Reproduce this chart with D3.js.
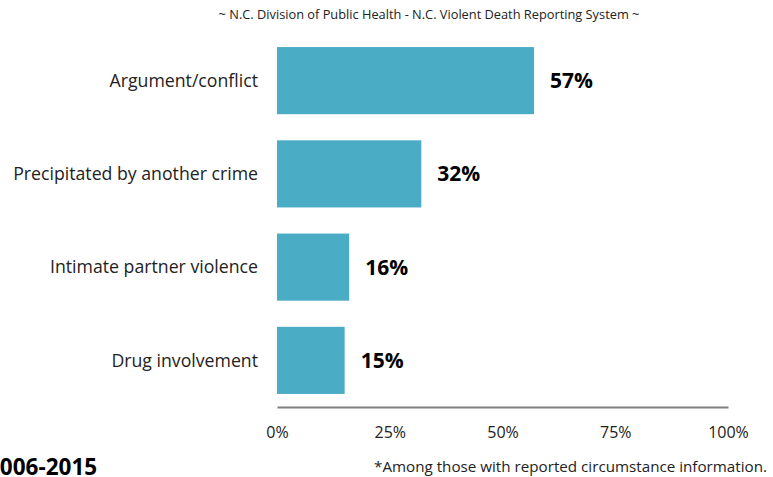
<!DOCTYPE html>
<html>
<head>
<meta charset="utf-8">
<script src="https://cdn.jsdelivr.net/npm/d3@7"></script>
<style>
  body { margin: 0; background: #fff; }
  svg { display: block; font-family: "Open Sans", sans-serif; }
</style>
</head>
<body>
<div id="vis"></div>
<script>
const categories = [
  "Argument/conflict",
  "Precipitated by another crime",
  "Intimate partner violence",
  "Drug involvement",
];
const values = [57, 32, 16, 15];
const ticks = [0, 25, 50, 75, 100];

const FRAME_WIDTH = 773;
const FRAME_HEIGHT = 477;
const MARGINS = { left: 277, right: 45, top: 34, bottom: 70 };

const FRAME = d3
  .select("#vis")
  .append("svg")
  .attr("width", FRAME_WIDTH)
  .attr("height", FRAME_HEIGHT);

const X_SCALE = d3
  .scaleLinear()
  .domain([0, 100])
  .range([MARGINS.left, FRAME_WIDTH - MARGINS.right]);

const Y_SCALE = d3
  .scaleBand()
  .domain(categories)
  .range([MARGINS.top, FRAME_HEIGHT - MARGINS.bottom])
  .paddingInner(0.28)
  .paddingOuter(0.14);

// title
FRAME.append("text")
  .attr("x", 429)
  .attr("y", 19)
  .attr("text-anchor", "middle")
  .attr("font-size", "12.8px")
  .attr("fill", "#222")
  .text("~ N.C. Division of Public Health - N.C. Violent Death Reporting System ~");

// bars
FRAME.selectAll(".bar")
  .data(values)
  .enter()
  .append("rect")
  .attr("class", "bar")
  .attr("x", X_SCALE(0))
  .attr("y", (d, i) => Y_SCALE(categories[i]))
  .attr("width", (d) => X_SCALE(d) - X_SCALE(0))
  .attr("height", Y_SCALE.bandwidth())
  .attr("fill", "#4bacc6");

// value labels
FRAME.selectAll(".val")
  .data(values)
  .enter()
  .append("text")
  .attr("x", (d) => X_SCALE(d) + 16)
  .attr("y", (d, i) => Y_SCALE(categories[i]) + Y_SCALE.bandwidth() / 2)
  .attr("dy", "0.36em")
  .attr("font-size", "21px")
  .attr("font-weight", "bold")
  .attr("fill", "#000")
  .text((d) => d + "%");

// category labels
FRAME.selectAll(".cat")
  .data(categories)
  .enter()
  .append("text")
  .attr("x", MARGINS.left - 19)
  .attr("y", (d) => Y_SCALE(d) + Y_SCALE.bandwidth() / 2)
  .attr("dy", "0.36em")
  .attr("text-anchor", "end")
  .attr("font-size", "17.7px")
  .attr("fill", "#222")
  .text((d) => d);

// x axis
const xAxis = FRAME.append("g")
  .attr("transform", "translate(0," + (FRAME_HEIGHT - MARGINS.bottom) + ")")
  .call(
    d3.axisBottom(X_SCALE)
      .tickValues(ticks)
      .tickSize(0)
      .tickPadding(20)
      .tickFormat((d) => d + "%")
  );
xAxis.select(".domain").attr("stroke", "#808080").attr("stroke-width", 2);
xAxis.selectAll("text")
  .attr("font-size", "16px")
  .attr("fill", "#222")
  .attr("font-family", "'Open Sans', sans-serif");

// years (cut at left edge, as in the source)
FRAME.append("text")
  .attr("x", -13)
  .attr("y", 475)
  .attr("font-size", "22.5px")
  .attr("font-weight", "bold")
  .attr("fill", "#000")
  .text("2006-2015");

// footnote
FRAME.append("text")
  .attr("x", 767)
  .attr("y", 472)
  .attr("text-anchor", "end")
  .attr("font-size", "15.2px")
  .attr("fill", "#222")
  .text("*Among those with reported circumstance information.");
</script>
</body>
</html>
